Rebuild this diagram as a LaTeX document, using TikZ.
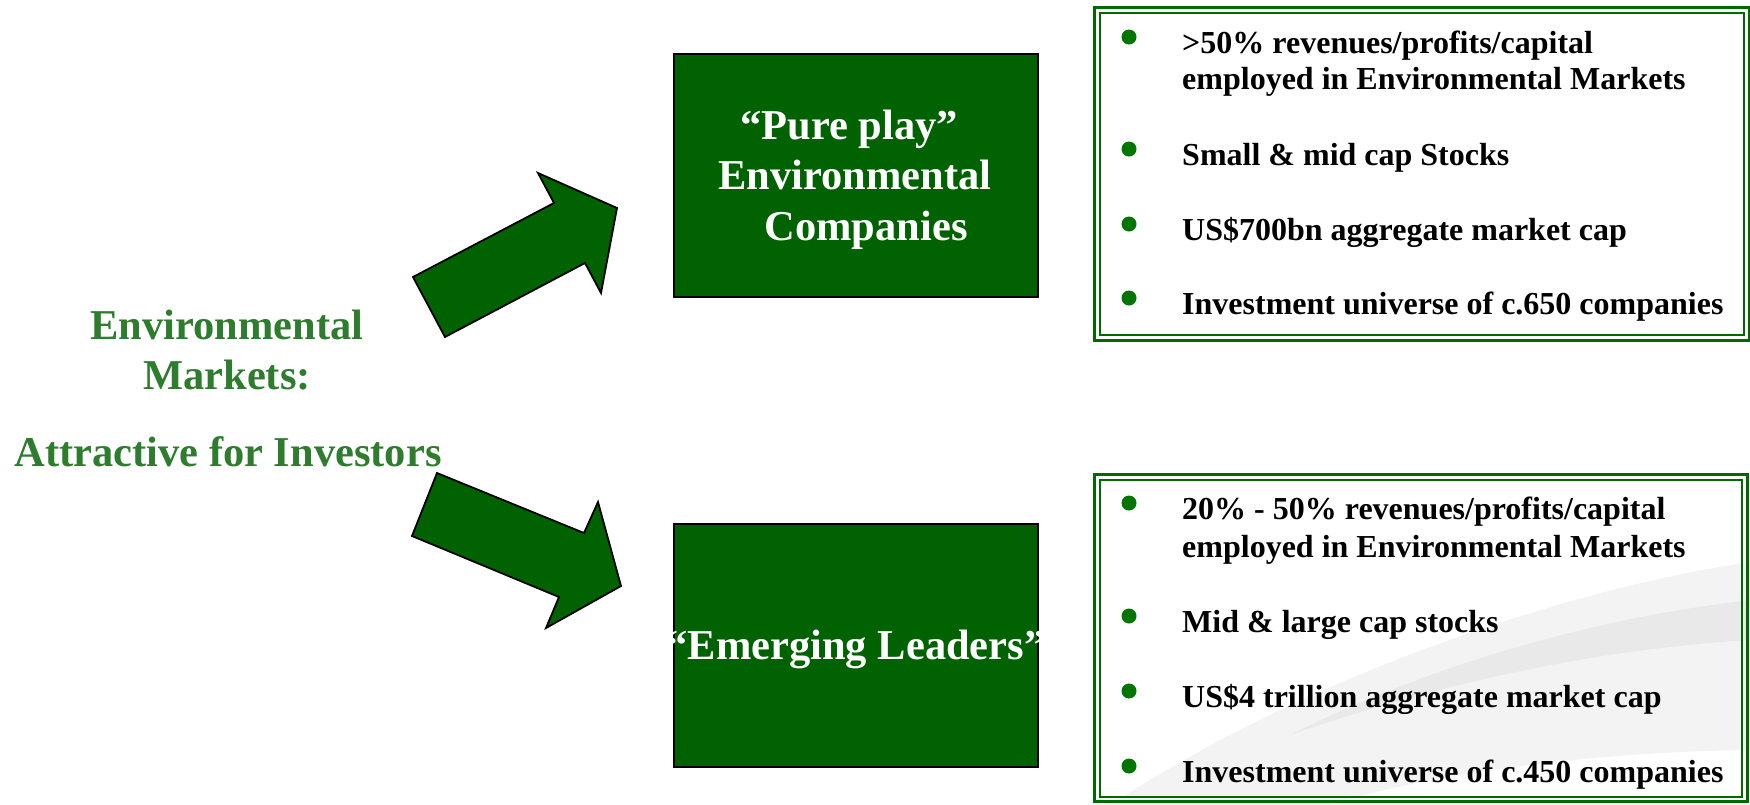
\documentclass[tikz,border=0pt]{standalone}
\usepackage{fontspec}
\setmainfont{Liberation Serif}
\definecolor{boxgreen}{RGB}{0,98,0}
\definecolor{titlegreen}{RGB}{46,125,46}
\definecolor{framegreen}{RGB}{0,105,0}
\definecolor{dotgreen}{RGB}{0,118,0}
\definecolor{swooshA}{RGB}{243,243,243}
\definecolor{swooshB}{RGB}{233,233,233}
\begin{document}
\begin{tikzpicture}[x=1pt,y=-1pt,
  greenbox/.style={draw=black, line width=2pt, fill=boxgreen, inner sep=0pt, anchor=north west},
  bigarrow/.style={draw=black, line width=1.8pt, fill=boxgreen, line join=miter},
  titletext/.style={font=\fontsize{42.5}{50}\selectfont\bfseries, text=titlegreen, inner sep=0pt, anchor=base},
  boxtext/.style={font=\fontsize{42.5}{50}\selectfont\bfseries, text=white, inner sep=0pt, anchor=base},
  itemtext/.style={font=\fontsize{32}{36}\selectfont\bfseries, text=black, inner sep=0pt, anchor=base west},
  dot/.style={circle, fill=dotgreen, minimum size=15pt, inner sep=0pt},
  frameouter/.style={draw=framegreen, line width=2.6pt, inner sep=0pt, anchor=north west},
  frameinner/.style={draw=framegreen, line width=2pt, inner sep=0pt, anchor=north west},
]
\useasboundingbox (0,0) rectangle (1750,804);
\fill[white] (0,0) rectangle (1750,804);

% background swoosh
\fill[swooshA] (1750,562) .. controls (1560,590) and (1300,680) .. (1112,804)
  -- (1330,804) .. controls (1450,770) and (1600,752) .. (1750,750) -- cycle;
\fill[swooshB] (1750,600) .. controls (1580,620) and (1420,670) .. (1290,735)
  .. controls (1420,690) and (1580,650) .. (1750,640) -- cycle;

% left title
\node[titletext] (t1) at (227,339) {Environmental};
\node[titletext] (t2) at (227,389) {Markets:};
\node[titletext] (t3) at (228,466) {Attractive for Investors};

% block arrows
\draw[bigarrow] (413,277) -- (445,337) -- (585,263) -- (601,293) -- (617,208)
  -- (538,173) -- (554,203) -- cycle;
\draw[bigarrow] (437,473) -- (412,536) -- (559,597) -- (546,628) -- (621,586)
  -- (598,502) -- (584,533) -- cycle;

% green boxes
\node[greenbox, minimum width=364pt, minimum height=243pt] (pure) at (673,53) {};
\node[greenbox, minimum width=364pt, minimum height=243pt] (emerg) at (673,523) {};
\node[boxtext] (p1) at (855,139) {“Pure play”\rule{12pt}{0pt}};
\node[boxtext] (p2) at (855,189) {Environmental};
\node[boxtext] (p3) at (855,240) {\rule{22pt}{0pt}Companies};
\node[boxtext] (e1) at (856,659) {“Emerging Leaders”};

% right frames
\node[frameouter, minimum width=655pt, minimum height=333pt] (f1o) at (1093,6) {};
\node[frameinner, minimum width=644pt, minimum height=322pt] (f1i) at (1099,12) {};
\node[frameouter, minimum width=653pt, minimum height=327pt] (f2o) at (1093,473) {};
\node[frameinner, minimum width=642pt, minimum height=317pt] (f2i) at (1099,479) {};

% upper list
\node[dot] (ua) at (1129,37) {};
\node[itemtext] (ua1) at (1182,53) {>50\% revenues/profits/capital};
\node[itemtext] (ua2) at (1182,89) {employed in Environmental Markets};
\node[dot] (ub) at (1129,149) {};
\node[itemtext] (ub1) at (1182,165) {Small \& mid cap Stocks};
\node[dot] (uc) at (1129,224) {};
\node[itemtext] (uc1) at (1182,240) {US\$700bn aggregate market cap};
\node[dot] (ud) at (1129,298) {};
\node[itemtext] (ud1) at (1182,314) {Investment universe of c.650 companies};

% lower list
\node[dot] (la) at (1129,503) {};
\node[itemtext] (la1) at (1182,519) {20\% - 50\% revenues/profits/capital};
\node[itemtext] (la2) at (1182,557) {employed in Environmental Markets};
\node[dot] (lb) at (1129,616) {};
\node[itemtext] (lb1) at (1182,632) {Mid \& large cap stocks};
\node[dot] (lc) at (1129,691) {};
\node[itemtext] (lc1) at (1182,707) {US\$4 trillion aggregate market cap};
\node[dot] (ld) at (1129,766) {};
\node[itemtext] (ld1) at (1182,782) {Investment universe of c.450 companies};
\end{tikzpicture}
\end{document}
